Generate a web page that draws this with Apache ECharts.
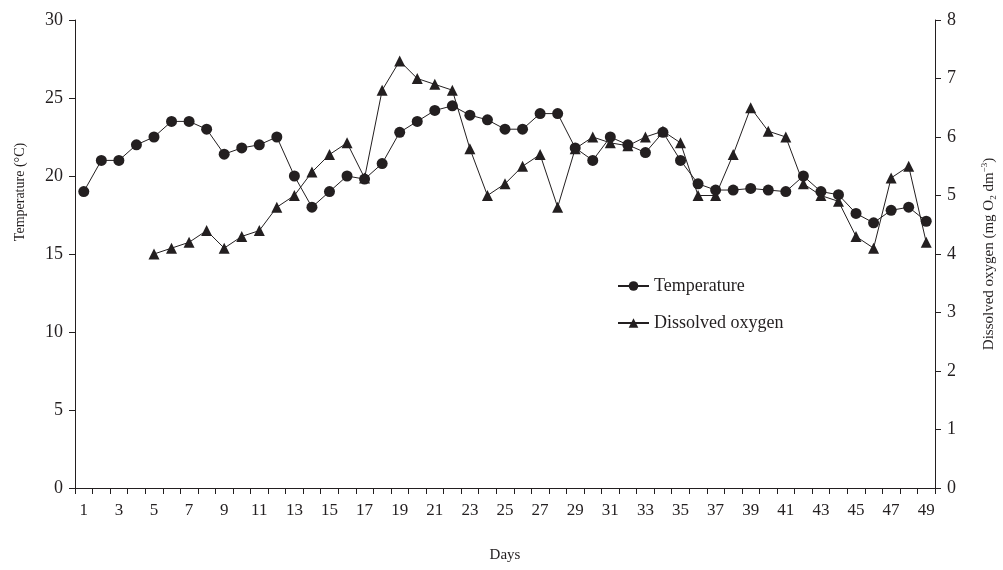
<!DOCTYPE html>
<html>
<head>
<meta charset="utf-8">
<script src="https://cdn.jsdelivr.net/npm/echarts@6/dist/echarts.min.js"></script>
<style>html,body{margin:0;padding:0;background:#fff;}#c{width:1003px;height:570px;}</style>
</head>
<body>
<div id="c"></div>
<script>
var days = [];
for (var d = 1; d <= 49; d++) days.push(String(d));
var temperature = [19,21,21,22,22.5,23.5,23.5,23,21.4,21.8,22,22.5,20,18,19,20,19.8,20.8,22.8,23.5,24.2,24.5,23.9,23.6,23,23,24,24,21.8,21,22.5,22,21.5,22.8,21,19.5,19.1,19.1,19.2,19.1,19,20,19,18.8,17.6,17,17.8,18,17.1];
var oxygen = [null,null,null,null,4.0,4.1,4.2,4.4,4.1,4.3,4.4,4.8,5.0,5.4,5.7,5.9,5.3,6.8,7.3,7.0,6.9,6.8,5.8,5.0,5.2,5.5,5.7,4.8,5.8,6.0,5.9,5.85,6.0,6.1,5.9,5.0,5.0,5.7,6.5,6.1,6.0,5.2,5.0,4.9,4.3,4.1,5.3,5.5,4.2];

var FONT = '"Liberation Serif", "DejaVu Serif", serif';
var chart = echarts.init(document.getElementById('c'), null, {renderer: 'canvas'});
var axisLineStyle = {color: '#231f20', width: 1};
chart.setOption({
  animation: false,
  backgroundColor: '#fff',
  textStyle: {fontFamily: FONT, color: '#231f20'},
  grid: {left: 75, right: 68, top: 20, bottom: 82, containLabel: false, outerBoundsMode: 'none'},
  legend: {
    orient: 'vertical', left: 612, top: 272, itemWidth: 31, itemHeight: 12, itemGap: 19,
    textStyle: {fontFamily: FONT, fontSize: 18, color: '#231f20'},
    data: ['Temperature', 'Dissolved oxygen']
  },
  xAxis: {
    type: 'category', data: days, boundaryGap: true,
    name: 'Days', nameLocation: 'middle', nameGap: 60,
    nameTextStyle: {fontFamily: FONT, fontSize: 15, color: '#231f20'},
    axisLine: {lineStyle: axisLineStyle},
    axisTick: {show: true, interval: 0, length: 6, lineStyle: axisLineStyle},
    axisLabel: {interval: 1, fontFamily: FONT, fontSize: 17, color: '#231f20', margin: 14},
    splitLine: {show: false}
  },
  yAxis: [{
    type: 'value', min: 0, max: 30, interval: 5, position: 'left',
    name: 'Temperature (°C)', nameLocation: 'middle', nameGap: 48, nameRotate: 90,
    nameTextStyle: {fontFamily: FONT, fontSize: 14, color: '#231f20', padding: [0, 0, 0, 124]},
    axisLine: {show: true, lineStyle: axisLineStyle},
    axisTick: {show: true, length: 6, lineStyle: axisLineStyle},
    axisLabel: {fontFamily: FONT, fontSize: 18, color: '#231f20', margin: 12},
    splitLine: {show: false}
  }, {
    type: 'value', min: 0, max: 8, interval: 1, position: 'right',
    name: '{a|Dissolved oxygen (mg O}{sub|2}{a| dm}{sup|−3}{a|)}', nameLocation: 'middle', nameGap: 43, nameRotate: 90,
    nameTextStyle: {
      fontFamily: FONT, fontSize: 15, color: '#231f20',
      rich: {
        a: {fontFamily: FONT, fontSize: 15, color: '#231f20', lineHeight: 22, verticalAlign: 'middle'},
        sub: {fontFamily: FONT, fontSize: 9, color: '#231f20', lineHeight: 22, verticalAlign: 'bottom', padding: [0, 0, 2, 0]},
        sup: {fontFamily: FONT, fontSize: 9, color: '#231f20', lineHeight: 22, verticalAlign: 'top', padding: [2, 0, 0, 0]}
      }
    },
    axisLine: {show: true, lineStyle: axisLineStyle},
    axisTick: {show: true, length: 6, lineStyle: axisLineStyle},
    axisLabel: {fontFamily: FONT, fontSize: 18, color: '#231f20', margin: 12},
    splitLine: {show: false}
  }],
  series: [{
    name: 'Temperature', type: 'line', yAxisIndex: 0, data: temperature,
    symbol: 'circle', symbolSize: 11, showAllSymbol: true,
    lineStyle: {color: '#231f20', width: 1},
    itemStyle: {color: '#231f20', borderWidth: 0}
  }, {
    name: 'Dissolved oxygen', type: 'line', yAxisIndex: 1, data: oxygen,
    symbol: 'triangle', symbolSize: 11, showAllSymbol: true, connectNulls: false,
    lineStyle: {color: '#231f20', width: 1},
    itemStyle: {color: '#231f20', borderWidth: 0}
  }]
});
</script>
</body>
</html>
